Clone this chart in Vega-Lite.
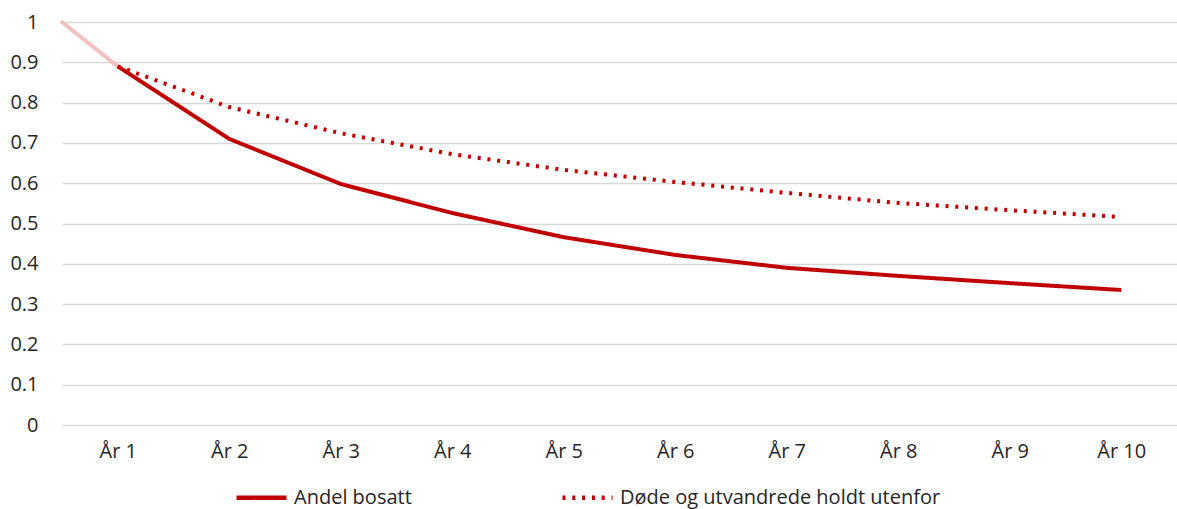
{
  "$schema": "https://vega.github.io/schema/vega-lite/v6.json",
  "width": 1115,
  "height": 403,
  "autosize": {"type": "none"},
  "padding": {"left": 62, "top": 22, "right": 0, "bottom": 84},
  "config": {"view": {"stroke": null}, "font": "Open Sans"},
  "datasets": {
    "lead": [
      {"aar": 0.5, "andel": 1.0},
      {"aar": 1, "andel": 0.89}
    ],
    "main": [
      {"aar": 1, "serie": "Andel bosatt", "andel": 0.89},
      {"aar": 2, "serie": "Andel bosatt", "andel": 0.71},
      {"aar": 3, "serie": "Andel bosatt", "andel": 0.598},
      {"aar": 4, "serie": "Andel bosatt", "andel": 0.526},
      {"aar": 5, "serie": "Andel bosatt", "andel": 0.466},
      {"aar": 6, "serie": "Andel bosatt", "andel": 0.422},
      {"aar": 7, "serie": "Andel bosatt", "andel": 0.39},
      {"aar": 8, "serie": "Andel bosatt", "andel": 0.37},
      {"aar": 9, "serie": "Andel bosatt", "andel": 0.352},
      {"aar": 10, "serie": "Andel bosatt", "andel": 0.335},
      {"aar": 1, "serie": "Døde og utvandrede holdt utenfor", "andel": 0.89},
      {"aar": 2, "serie": "Døde og utvandrede holdt utenfor", "andel": 0.789},
      {"aar": 3, "serie": "Døde og utvandrede holdt utenfor", "andel": 0.724},
      {"aar": 4, "serie": "Døde og utvandrede holdt utenfor", "andel": 0.672},
      {"aar": 5, "serie": "Døde og utvandrede holdt utenfor", "andel": 0.633},
      {"aar": 6, "serie": "Døde og utvandrede holdt utenfor", "andel": 0.603},
      {"aar": 7, "serie": "Døde og utvandrede holdt utenfor", "andel": 0.576},
      {"aar": 8, "serie": "Døde og utvandrede holdt utenfor", "andel": 0.551},
      {"aar": 9, "serie": "Døde og utvandrede holdt utenfor", "andel": 0.533},
      {"aar": 10, "serie": "Døde og utvandrede holdt utenfor", "andel": 0.516}
    ]
  },
  "encoding": {
    "x": {
      "field": "aar",
      "type": "quantitative",
      "scale": {"domain": [0.5, 10.5], "nice": false, "zero": false},
      "axis": {
        "title": null,
        "values": [1, 2, 3, 4, 5, 6, 7, 8, 9, 10],
        "labelExpr": "'År ' + datum.value",
        "grid": false,
        "domain": false,
        "ticks": false,
        "labelFontSize": 20,
        "labelColor": "#262626",
        "labelPadding": 16,
        "labelFlush": false
      }
    },
    "y": {
      "field": "andel",
      "type": "quantitative",
      "scale": {"domain": [0, 1], "nice": false},
      "axis": {
        "title": null,
        "values": [0, 0.1, 0.2, 0.3, 0.4, 0.5, 0.6, 0.7, 0.8, 0.9, 1],
        "format": "~g",
        "grid": true,
        "gridColor": "#d9d9d9",
        "gridWidth": 1.3,
        "domain": false,
        "ticks": false,
        "labelFontSize": 20,
        "labelColor": "#262626",
        "labelPadding": 24
      }
    }
  },
  "layer": [
    {
      "data": {"name": "lead"},
      "mark": {"type": "line", "color": "#F2C2C2", "strokeWidth": 4, "strokeCap": "round"}
    },
    {
      "data": {"name": "main"},
      "mark": {"type": "line", "strokeWidth": 4},
      "encoding": {
        "color": {
          "field": "serie",
          "type": "nominal",
          "scale": {"domain": ["Andel bosatt", "Døde og utvandrede holdt utenfor"], "range": ["#C00000", "#C00000"]},
          "legend": {
            "title": null,
            "orient": "none",
            "direction": "horizontal",
            "legendX": 172,
            "legendY": 448,
            "symbolType": "stroke",
            "symbolSize": 2500,
            "symbolStrokeWidth": 4.5,
            "labelFontSize": 20,
            "labelColor": "#262626",
            "labelOffset": 5,
            "columnPadding": 141,
            "labelLimit": 400
          }
        },
        "strokeDash": {
          "field": "serie",
          "type": "nominal",
          "scale": {"domain": ["Andel bosatt", "Døde og utvandrede holdt utenfor"], "range": [[1, 0], [3, 6.8]]},
          "legend": null
        }
      }
    }
  ]
}
